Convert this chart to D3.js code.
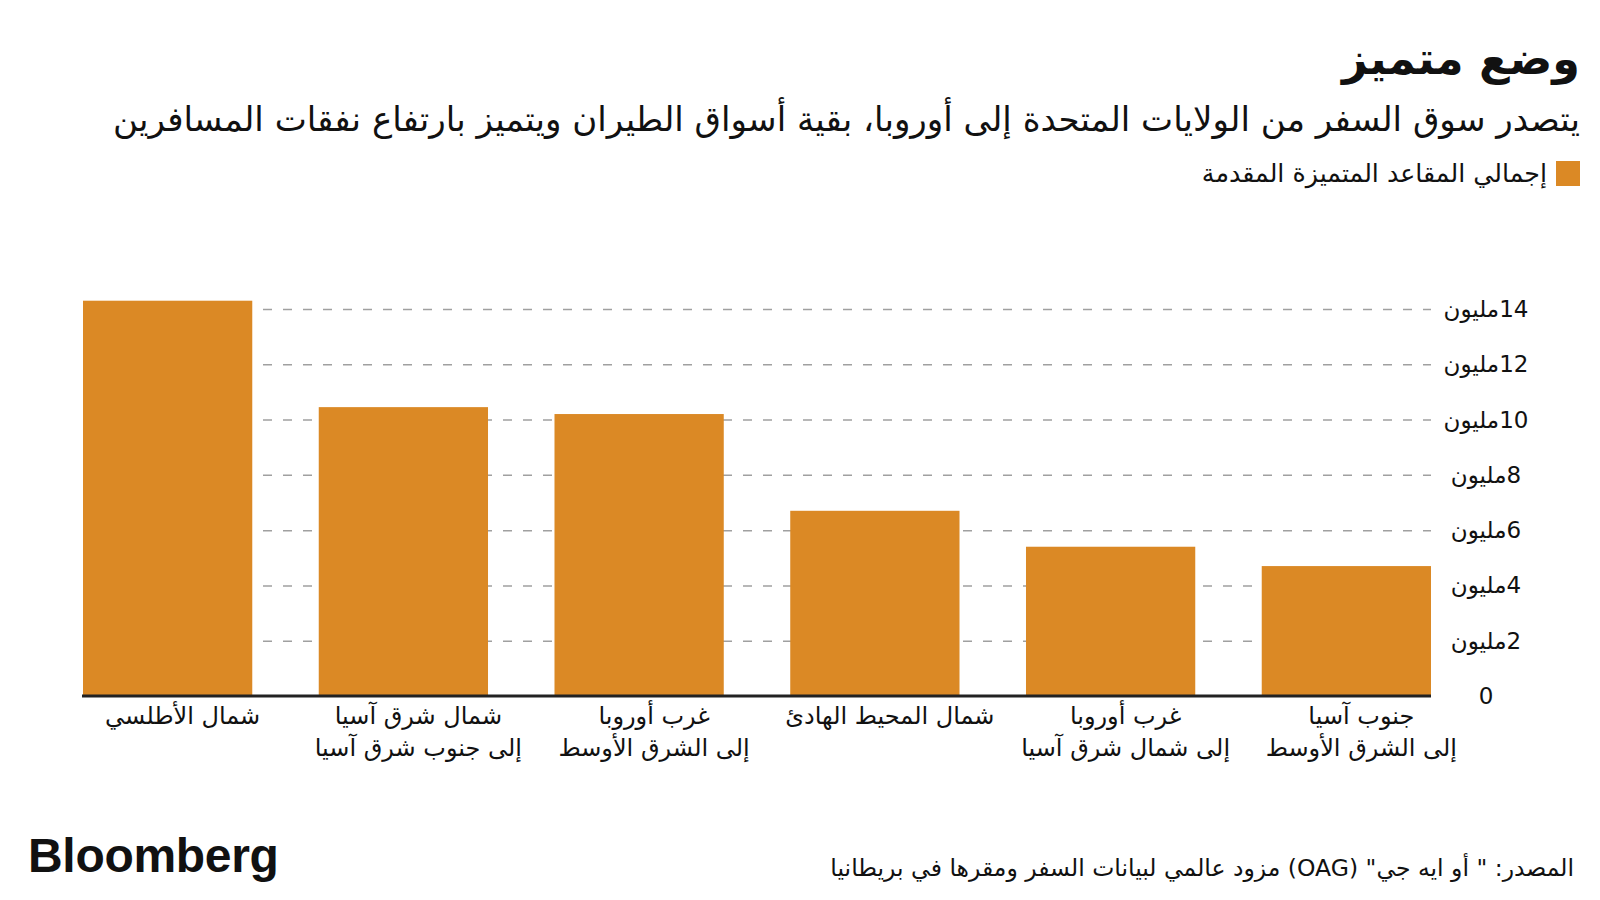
<!DOCTYPE html>
<html>
<head>
<meta charset="utf-8">
<script src="https://cdnjs.cloudflare.com/ajax/libs/d3/7.8.5/d3.min.js"></script>
<style>
  body { margin: 0; background: #fff; }
  svg text { font-family: "DejaVu Sans", sans-serif; fill: #111; }
</style>
</head>
<body>
<svg id="chart" width="1600" height="900"></svg>
<script>
// data (millions of premium seats)
var categories = [
    ["شمال الأطلسي"],
    ["شمال شرق آسيا", "إلى جنوب شرق آسيا"],
    ["غرب أوروبا", "إلى الشرق الأوسط"],
    ["شمال المحيط الهادئ"],
    ["غرب أوروبا", "إلى شمال شرق آسيا"],
    ["جنوب آسيا", "إلى الشرق الأوسط"]
];
var seats = [14.3, 10.45, 10.2, 6.7, 5.4, 4.7];
var tickValues = [0, 2, 4, 6, 8, 10, 12, 14];

var title = "وضع متميز";
var subtitle = "يتصدر سوق السفر من الولايات المتحدة إلى أوروبا، بقية أسواق الطيران ويتميز بارتفاع نفقات المسافرين";
var legendLabel = "إجمالي المقاعد المتميزة المقدمة";
var source = "المصدر: \" أو ايه جي\" (OAG) مزود عالمي لبيانات السفر ومقرها في بريطانيا";

var barColor = "#db8925";

var svg = d3.select("#chart");

// shrink/grow a text until it takes the wanted width
function fitWidth(sel, w) {
    var fs = parseFloat(sel.style("font-size"));
    var cur = sel.node().getComputedTextLength();
    sel.style("font-size", (fs * w / cur).toFixed(1) + "px");
}

var x = d3.scaleBand()
    .domain(d3.range(seats.length))
    .range([83, 1431])
    .paddingInner(0.282)
    .paddingOuter(0);

var y = d3.scaleLinear()
    .domain([0, 14])
    .range([696, 309]);

// header (rtl: anchor "start" sits on the right)
var t = svg.append("text")
    .attr("x", 1580).attr("y", 74)
    .attr("direction", "rtl")
    .attr("text-anchor", "start")
    .style("font-size", "48px").style("font-weight", "bold")
    .text(title);
fitWidth(t, 238);

var st = svg.append("text")
    .attr("x", 1580).attr("y", 131)
    .attr("direction", "rtl")
    .attr("text-anchor", "start")
    .style("font-size", "27px")
    .text(subtitle);
fitWidth(st, 1470);

svg.append("rect")
    .attr("x", 1556).attr("y", 161)
    .attr("width", 24).attr("height", 25)
    .attr("fill", barColor);

var lg = svg.append("text")
    .attr("x", 1547).attr("y", 182)
    .attr("direction", "rtl")
    .attr("text-anchor", "start")
    .style("font-size", "22px")
    .text(legendLabel);
fitWidth(lg, 345);

// gridlines
var grid = svg.append("g")
    .attr("transform", "translate(83,0)")
    .call(d3.axisLeft(y).tickValues(tickValues.slice(1)).tickSize(-(1431 - 83)).tickFormat(""));
grid.select(".domain").remove();
grid.selectAll("line")
    .attr("stroke", "#a0a0a0")
    .attr("stroke-width", 1.5)
    .attr("stroke-dasharray", "9,11");

// bars
svg.append("g").selectAll("rect")
    .data(seats)
    .enter().append("rect")
    .attr("x", function (d, i) { return x(i); })
    .attr("y", function (d) { return y(d); })
    .attr("width", x.bandwidth())
    .attr("height", function (d) { return y(0) - y(d); })
    .attr("fill", barColor);

// baseline
svg.append("line")
    .attr("x1", 82).attr("x2", 1431)
    .attr("y1", y(0)).attr("y2", y(0))
    .attr("stroke", "#222")
    .attr("stroke-width", 3);

// y tick labels
svg.append("g").selectAll("text")
    .data(tickValues)
    .enter().append("text")
    .attr("x", 1486)
    .attr("y", function (d) { return y(d); })
    .attr("dy", "0.35em")
    .attr("text-anchor", "middle")
    .attr("direction", "rtl")
    .style("font-size", "23px")
    .text(function (d) { return d === 0 ? "0" : d + "مليون"; });

// category labels
var cat = svg.append("g").selectAll("text")
    .data(categories)
    .enter().append("text")
    .attr("text-anchor", "middle")
    .attr("direction", "rtl")
    .style("font-size", "24px")
    .attr("transform", function (d, i) {
        return "translate(" + (x(i) + x.bandwidth() / 2 + 15) + ",724)";
    });
cat.selectAll("tspan")
    .data(function (d) { return d; })
    .enter().append("tspan")
    .attr("x", 0)
    .attr("y", function (d, i) { return i * 32; })
    .text(function (d) { return d; });

// footer
svg.append("text")
    .attr("x", 28).attr("y", 872)
    .style("font-family", "'Liberation Sans', Arial, sans-serif")
    .style("font-size", "48px").style("font-weight", "bold")
    .style("letter-spacing", "-0.3px")
    .text("Bloomberg");

var src = svg.append("text")
    .attr("x", 1574).attr("y", 876)
    .attr("direction", "rtl")
    .attr("text-anchor", "start")
    .style("font-size", "20px")
    .text(source);
fitWidth(src, 745);
</script>
</body>
</html>
